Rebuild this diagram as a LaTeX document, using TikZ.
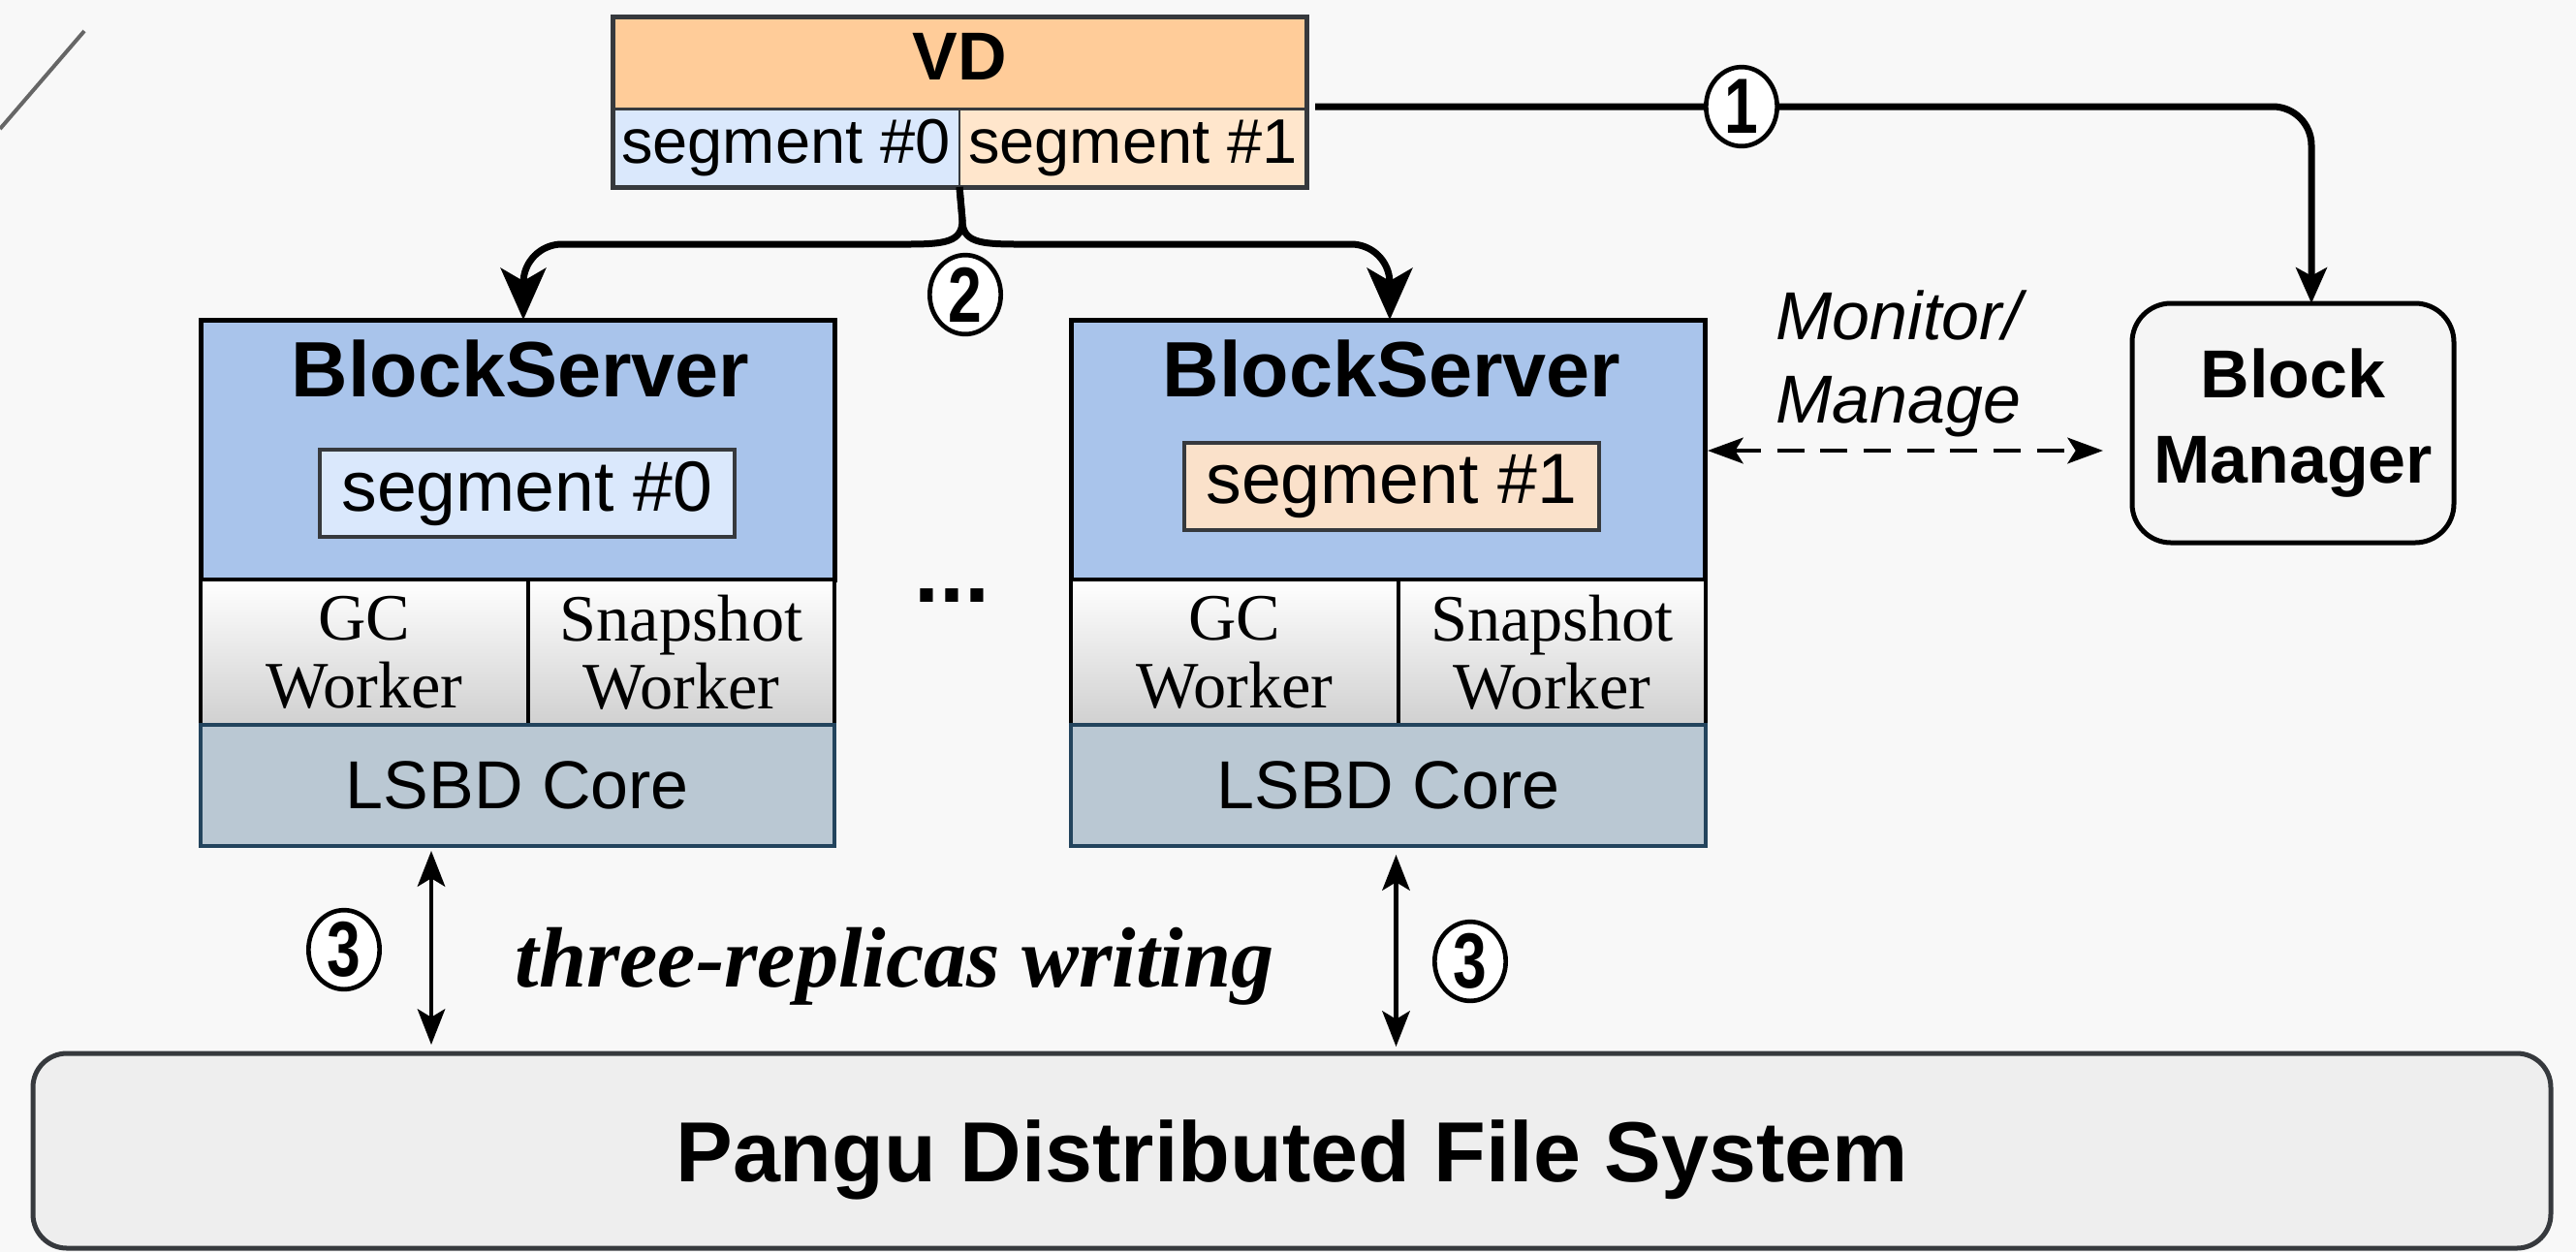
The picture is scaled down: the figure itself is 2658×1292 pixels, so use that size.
\documentclass[tikz,border=0pt]{standalone}
\usepackage{fontspec}
\usepackage{graphicx}
\setmainfont{Liberation Serif}
\setsansfont{Liberation Sans}
\usetikzlibrary{arrows.meta,calc,shapes.geometric}
\definecolor{bgc}{HTML}{F8F8F8}
\definecolor{strokeg}{HTML}{36393D}
\definecolor{vdor}{HTML}{FFCC99}
\definecolor{segb}{HTML}{DAE8FC}
\definecolor{sego}{HTML}{FFE6CC}
\definecolor{sego2}{HTML}{FAE1CA}
\definecolor{bsb}{HTML}{A9C4EB}
\definecolor{lsbd}{HTML}{BAC8D3}
\definecolor{lsbdb}{HTML}{23445D}
\definecolor{wbot}{HTML}{D0D0D0}
\definecolor{bmf}{HTML}{F5F5F5}
\definecolor{pf}{HTML}{EEEEEE}
\definecolor{slashc}{HTML}{666666}
\newcommand{\fsz}[2]{\fontsize{#1}{#2}\selectfont}
\newcommand{\cdig}[1]{\scalebox{0.85}[1.1]{#1}}
\begin{document}
\begin{tikzpicture}[x=0.3pt,y=-0.3pt,
  sbox/.style={inner sep=0pt, outer sep=0pt, anchor=north west},
  vdcell/.style={sbox, draw=strokeg, line width=0.8pt, minimum width=107.4pt, minimum height=24pt, font=\sffamily\fsz{19.5}{19.5}},
  bsblue/.style={sbox, draw=black, line width=1.5pt, fill=bsb, minimum width=196.2pt, minimum height=80.4pt},
  bstitle/.style={anchor=base, inner sep=0pt, font=\sffamily\bfseries\fsz{24.3}{24.3}},
  segin/.style={sbox, draw=strokeg, line width=1.2pt, minimum width=128.4pt, minimum height=27pt, font=\sffamily\fsz{22}{22}},
  worker/.style={sbox, draw=black, line width=1.2pt, top color=white, bottom color=wbot, minimum height=45pt, align=center, font=\rmfamily\fsz{20.5}{21}},
  corebox/.style={sbox, draw=lsbdb, line width=1.2pt, fill=lsbd, minimum width=196.2pt, minimum height=37.5pt, font=\sffamily\fsz{21}{21}},
  circnum/.style={ellipse, draw=black, line width=1.4pt, fill=white, minimum width=22pt, minimum height=24.5pt, inner sep=0pt, font=\sffamily\bfseries\fsz{22}{22}},
  connA/.style={draw=black, line width=2.1pt, -{Stealth[length=11pt,width=9.5pt,inset=2.5pt]}},
  connB/.style={draw=black, line width=2.1pt, -{Stealth[length=16pt,width=14pt,inset=4pt]}},
  connC/.style={draw=black, line width=1.4pt, {Stealth[length=11pt,width=8.5pt,inset=2.5pt]}-{Stealth[length=11pt,width=8.5pt,inset=2.5pt]}},
  dasharr/.style={draw=black, line width=1.2pt, dash pattern=on 8.4pt off 5pt, {Stealth[length=11pt,width=8pt,inset=2.5pt]}-{Stealth[length=11pt,width=8pt,inset=2.5pt]}}
]
\path[use as bounding box, fill=bgc] (0,0) rectangle (2658,1292);
\draw[slashc, line width=1.2pt] (0,133) -- (87,32);

% VD
\node[sbox, draw=strokeg, line width=1.2pt, fill=vdor, minimum width=214.8pt, minimum height=28.8pt] (vdh) at (632,17) {};
\node[anchor=base, inner sep=0pt, font=\sffamily\bfseries\fsz{21}{21}] (vdt) at (990,82) {VD};
\node[vdcell, fill=segb] (vds0) at (632,113) {segment \#0};
\node[vdcell, fill=sego] (vds1) at (990,113) {segment \#1};
\draw[strokeg, line width=1.5pt] (vdh.north west) rectangle (vds1.south east);

% left BlockServer
\node[bsblue] (bslb) at (207,330) {};
\node[bstitle] (bslt) at (537,409) {BlockServer};
\node[segin, fill=segb] (bsls) at (330,464) {segment \#0};
\node[worker, minimum width=101.4pt] (bslgc) at (207,598) {GC\\Worker};
\node[worker, minimum width=94.8pt] (bslsn) at (545,598) {Snapshot\\Worker};
\node[corebox] (bslc) at (207,748) {LSBD Core};

% right BlockServer
\node[bsblue] (bsrb) at (1105,330) {};
\node[bstitle] (bsrt) at (1436,409) {BlockServer};
\node[segin, fill=sego2] (bsrs) at (1222,457) {segment \#1};
\node[worker, minimum width=101.4pt] (bsrgc) at (1105,598) {GC\\Worker};
\node[worker, minimum width=95.1pt] (bsrsn) at (1443,598) {Snapshot\\Worker};
\node[corebox, minimum width=196.5pt] (bsrc) at (1105,748) {LSBD Core};

\node[anchor=base, inner sep=0pt, font=\sffamily\bfseries\fsz{28}{28}] (dots) at (982,621) {...};

% Block Manager
\node[sbox, draw=black, line width=1.5pt, fill=bmf, rounded corners=12pt, minimum width=99.6pt, minimum height=74.1pt, align=center, font=\sffamily\bfseries\fsz{21}{26.4}] (bm) at (2200,313) {Block\\Manager};

% Pangu
\node[sbox, draw=strokeg, line width=1.5pt, fill=pf, rounded corners=10.5pt, minimum width=779.4pt, minimum height=60.3pt, text depth=0pt, font=\sffamily\bfseries\fsz{26.4}{26.4}] (pangu) at (34,1087) {Pangu Distributed File System};

% labels
\node[anchor=north west, inner sep=0pt, align=left, font=\sffamily\itshape\fsz{21}{25.8}] (mm) at (1832,299) {Monitor/\\Manage};
\node[anchor=base, inner sep=0pt, font=\rmfamily\bfseries\itshape\fsz{26.5}{26.5}] (trw) at (923,1018) {three-replicas writing};

% connector 1
\draw[connA, rounded corners=12pt] ($(vdh.south east)+(9,-3)$) -| ($(bm.north)+(19,0)$);
\node[circnum] (n1) at (1797,110) {\cdig{1}};

% connector 2
\coordinate (br) at ($(vds0.south east)+(3,34)$);
\draw[connB] (vds0.south east) -- (br) .. controls ($(br)+(0,23)$) and ($(br)+(-18,25)$) .. ($(br)+(-58,25)$) [rounded corners=12pt] -| ($(bslb.north)+(6,0)$);
\draw[connB] (vds0.south east) -- (br) .. controls ($(br)+(0,23)$) and ($(br)+(18,25)$) .. ($(br)+(58,25)$) [rounded corners=12pt] -| ($(bsrb.north)+(2,0)$);
\node[circnum] (n2) at (996,304) {\cdig{2}};

% connector 3
\coordinate (l3) at ($(bslc.south)+(-89,0)$);
\coordinate (r3) at ($(bsrc.south)+(8,0)$);
\draw[connC, shorten <=1.5pt, shorten >=2.7pt] (l3) -- (l3 |- pangu.north);
\draw[connC, shorten <=2.7pt, shorten >=2.1pt] (r3) -- (r3 |- pangu.north);
\node[circnum] (n3a) at (355,980) {\cdig{3}};
\node[circnum] (n3b) at (1517,992) {\cdig{3}};

% monitor/manage dashed
\coordinate (ds) at ($(bsrb.north east)+(3,135)$);
\draw[dasharr, shorten >=9pt] (ds) -- (ds -| bm.west);
\end{tikzpicture}
\end{document}
